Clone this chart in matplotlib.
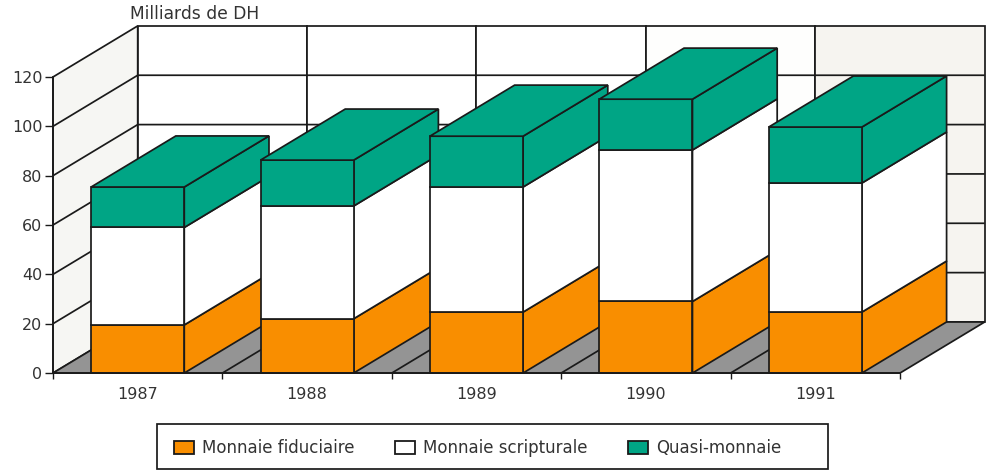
import matplotlib
matplotlib.use("Agg")
import matplotlib.pyplot as plt
from matplotlib.patches import Patch, Polygon, Rectangle

plt.rcParams['font.family'] = ['DejaVu Sans']

years = ["1987", "1988", "1989", "1990", "1991"]
fiduciaire = [19.5, 22, 24.7, 29, 24.7]
scripturale = [39.5, 45.7, 50.7, 61.4, 52.3]
quasi = [16.4, 18.6, 20.6, 20.6, 22.7]
series_names = ["Monnaie fiduciaire", "Monnaie scripturale", "Quasi-monnaie"]
series_colors = ["#f98e00", "#ffffff", "#00a585"]
yticks = [0, 20, 40, 60, 80, 100, 120]

# fake 3d: how far the back of the box is shifted, in data units
DX = 0.5
DY = 20.7
BAR_W = 0.55
INK = "#1a1a1a"
TXT = "#333333"

fig, ax = plt.subplots(figsize=(9.87, 4.7), dpi=100)
fig.subplots_adjust(left=0, right=1, top=1, bottom=0)
ax.set_xlim(-53 / 169.4, 934 / 169.4)
ax.set_ylim(-39.3, 151.2)


def poly(pts, color, z, lw=1.25):
    ax.add_patch(Polygon(pts, closed=True, facecolor=color, edgecolor=INK,
                         linewidth=lw, joinstyle="miter", zorder=z))


def line(xs, ys, z=2, lw=1.25):
    ax.plot(xs, ys, color=INK, lw=lw, zorder=z, solid_capstyle="butt")


n = len(years)
top = yticks[-1]

# walls and floor
poly([(0, 0), (DX, DY), (DX, top + DY), (0, top)], "#f6f6f3", 1)
wall_colors = ["#ffffff", "#ffffff", "#ffffff", "#fefefd", "#f6f4f0"]
for i in range(n):
    poly([(i + DX, DY), (i + 1 + DX, DY), (i + 1 + DX, top + DY), (i + DX, top + DY)],
         wall_colors[i], 1)
poly([(0, 0), (n, 0), (n + DX, DY), (DX, DY)], "#949494", 1)

for v in yticks[1:-1]:
    line([0, DX, n + DX], [v, v + DY, v + DY])
for i in range(1, n):
    line([i, i + DX], [0, DY])

# bars, left to right so each one sits in front of the previous one
for i in range(n):
    x0 = i + 0.5 - BAR_W / 2
    x1 = x0 + BAR_W
    base = 0
    z = 3 + i
    for vals, col in zip([fiduciaire, scripturale, quasi], series_colors):
        h = base + vals[i]
        poly([(x1, base), (x1 + DX, base + DY), (x1 + DX, h + DY), (x1, h)], col, z)
        poly([(x0, base), (x1, base), (x1, h), (x0, h)], col, z)
        base = h
    poly([(x0, base), (x1, base), (x1 + DX, base + DY), (x0 + DX, base + DY)], series_colors[2], z)

for s in ["top", "right"]:
    ax.spines[s].set_visible(False)
ax.spines["left"].set_position(("data", 0))
ax.spines["left"].set_bounds(0, top)
ax.spines["bottom"].set_position(("data", 0))
ax.spines["bottom"].set_bounds(0, n)
for s in ["left", "bottom"]:
    ax.spines[s].set_linewidth(1.25)
    ax.spines[s].set_color(INK)
    ax.spines[s].set_zorder(20)

ax.set_yticks(yticks)
ax.set_xticks(range(n + 1))
ax.set_xticklabels([])
ax.set_xticks([i + 0.5 for i in range(n)], labels=years, minor=True)
ax.tick_params(axis="y", length=5.5, width=1, color=INK, labelsize=11.5, labelcolor=TXT, pad=2)
ax.tick_params(axis="x", which="major", length=4, width=1, color=INK)
ax.tick_params(axis="x", which="minor", length=0, labelsize=11.5, labelcolor=TXT, pad=10)

fig.text(130 / 987, 1 - 14 / 470, "Milliards de DH", fontsize=12.3, color=TXT, va="center")

# legend frame is wider than its content on the right, so it is drawn apart
fig.add_artist(Rectangle((157 / 987, 1 / 470), 671 / 987, 45 / 470, transform=fig.transFigure,
                         facecolor="white", edgecolor=INK, linewidth=1.25, zorder=30))
handles = [Patch(facecolor=c, edgecolor=INK, linewidth=1.3) for c in series_colors]
leg = ax.legend(handles, series_names, ncol=3, loc="center left",
                bbox_to_anchor=(174 / 987, 22 / 470), bbox_transform=fig.transFigure,
                frameon=False, borderaxespad=0, borderpad=0, fontsize=12, labelcolor=TXT,
                handlelength=1.2, handleheight=0.85, handletextpad=0.5, columnspacing=2.4)
leg.set_zorder(40)
fig.add_artist(leg)

fig.savefig("out.png", dpi=100)
